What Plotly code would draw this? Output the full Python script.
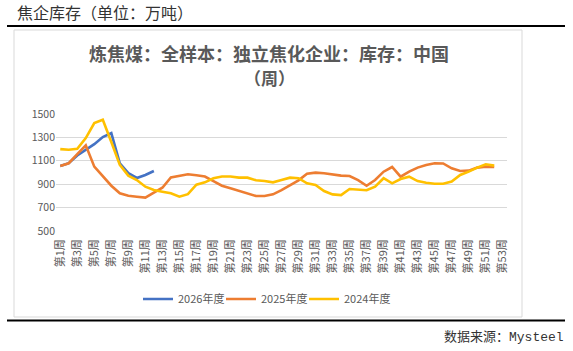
import plotly.graph_objects as go

weeks = ["第1周", "第2周", "第3周", "第4周", "第5周", "第6周", "第7周", "第8周", "第9周", "第10周",
         "第11周", "第12周", "第13周", "第14周", "第15周", "第16周", "第17周", "第18周", "第19周", "第20周",
         "第21周", "第22周", "第23周", "第24周", "第25周", "第26周", "第27周", "第28周", "第29周", "第30周",
         "第31周", "第32周", "第33周", "第34周", "第35周", "第36周", "第37周", "第38周", "第39周", "第40周",
         "第41周", "第42周", "第43周", "第44周", "第45周", "第46周", "第47周", "第48周", "第49周", "第50周",
         "第51周", "第52周", "第53周"]
shown_ticks = ["第1周", "第3周", "第5周", "第7周", "第9周", "第11周", "第13周", "第15周", "第17周",
               "第19周", "第21周", "第23周", "第25周", "第27周", "第29周", "第31周", "第33周", "第35周",
               "第37周", "第39周", "第41周", "第43周", "第45周", "第47周", "第49周", "第51周", "第53周"]

y2026 = [1056, 1080, 1145, 1190, 1242, 1303, 1337, 1079, 994, 953, 979, 1013]
y2025 = [1056, 1079, 1157, 1232, 1050, 973, 887, 822, 801, 793, 785, 828, 870, 958, 973, 985, 976, 966,
         927, 887, 865, 842, 819, 799, 799, 813, 850, 893, 933, 990, 999, 993, 982, 973, 970, 935, 887,
         936, 1007, 1047, 964, 1007, 1042, 1065, 1079, 1077, 1036, 1013, 1016, 1042, 1050, 1047]
y2024 = [1200, 1194, 1203, 1294, 1423, 1451, 1260, 1065, 973, 936, 879, 850, 836, 822, 793, 815, 896, 916,
         951, 966, 966, 956, 956, 933, 927, 916, 936, 956, 951, 907, 893, 842, 813, 807, 859, 856, 848,
         879, 951, 907, 944, 964, 927, 913, 904, 904, 922, 979, 1007, 1042, 1070, 1059]

series = [("2026年度", y2026, "#4472C4"), ("2025年度", y2025, "#ED7D31"), ("2024年度", y2024, "#FFC000")]

W, H = 573, 351
L, R, T, B = 56, 507, 114, 231


def px(x):
    return (x - L) / (R - L)


def py(y):
    return (B - y) / (B - T)


fig = go.Figure()
for name, vals, color in series:
    fig.add_trace(go.Scatter(x=weeks[:len(vals)], y=vals, name=name, mode="lines",
                             line=dict(color=color, width=2.6)))
# invisible spacer entry so the last legend label is not clipped
fig.add_trace(go.Scatter(x=[weeks[0]], y=[None], name=" ", mode="lines",
                         line=dict(color="rgba(0,0,0,0)", width=1), hoverinfo="skip"))

font_cjk = "Noto Sans CJK SC"
grey = "#595959"

fig.update_layout(
    width=W, height=H,
    margin=dict(l=L, r=W - R, t=T, b=H - B, autoexpand=False),
    paper_bgcolor="white", plot_bgcolor="white",
    showlegend=True,
    legend=dict(orientation="h", x=px(304), xanchor="center", y=py(299), yanchor="middle",
                entrywidth=38, entrywidthmode="pixels",
                font=dict(family=font_cjk, size=11, color=grey), bgcolor="rgba(0,0,0,0)"),
    xaxis=dict(type="category", categoryorder="array", categoryarray=weeks,
               range=[-0.5, 52.5], tickmode="array", tickvals=shown_ticks, ticktext=shown_ticks,
               tickangle=-90, tickfont=dict(family=font_cjk, size=11, color=grey),
               ticklabelstandoff=5,
               showgrid=False, showline=False, zeroline=False, ticks="", automargin=False),
    yaxis=dict(range=[500, 1500], tick0=500, dtick=200, showgrid=True, gridcolor="#D9D9D9",
               gridwidth=1, zeroline=False, showline=False, ticks="",
               tickfont=dict(family=font_cjk, size=10.5, color=grey), automargin=False),
    font=dict(family=font_cjk),
)

shapes = [
    dict(type="rect", xref="paper", yref="paper", x0=px(14), x1=px(522), y0=py(317), y1=py(30),
         line=dict(color="#D9D9D9", width=1), fillcolor="rgba(0,0,0,0)", layer="below"),
    dict(type="line", xref="paper", yref="paper", x0=px(7), x1=px(565), y0=py(26), y1=py(26),
         line=dict(color="black", width=2)),
    dict(type="line", xref="paper", yref="paper", x0=px(7), x1=px(565), y0=py(320.5), y1=py(320.5),
         line=dict(color="black", width=2)),
]
fig.update_layout(shapes=shapes)

fig.add_annotation(text="焦企库存（单位：万吨）", xref="paper", yref="paper", x=px(15), y=py(12),
                   xanchor="left", yanchor="middle", showarrow=False,
                   font=dict(family=font_cjk, size=16, color="#333333"))
fig.add_annotation(text="<b>炼焦煤：全样本：独立焦化企业：库存：中国</b>",
                   xref="paper", yref="paper",
                   x=px(269), y=py(52.5), xanchor="center", yanchor="middle", showarrow=False,
                   font=dict(family=font_cjk, size=18, color=grey))
fig.add_annotation(text="<b>（周）</b>",
                   xref="paper", yref="paper",
                   x=px(269), y=py(77), xanchor="center", yanchor="middle", showarrow=False,
                   font=dict(family=font_cjk, size=17, color=grey))
fig.add_annotation(text="数据来源：Mysteel", xref="paper", yref="paper", x=px(566), y=py(337),
                   xanchor="right", yanchor="middle", showarrow=False,
                   font=dict(family="Liberation Mono, " + font_cjk, size=13, color="#333333"))

fig.write_html("out.html")
